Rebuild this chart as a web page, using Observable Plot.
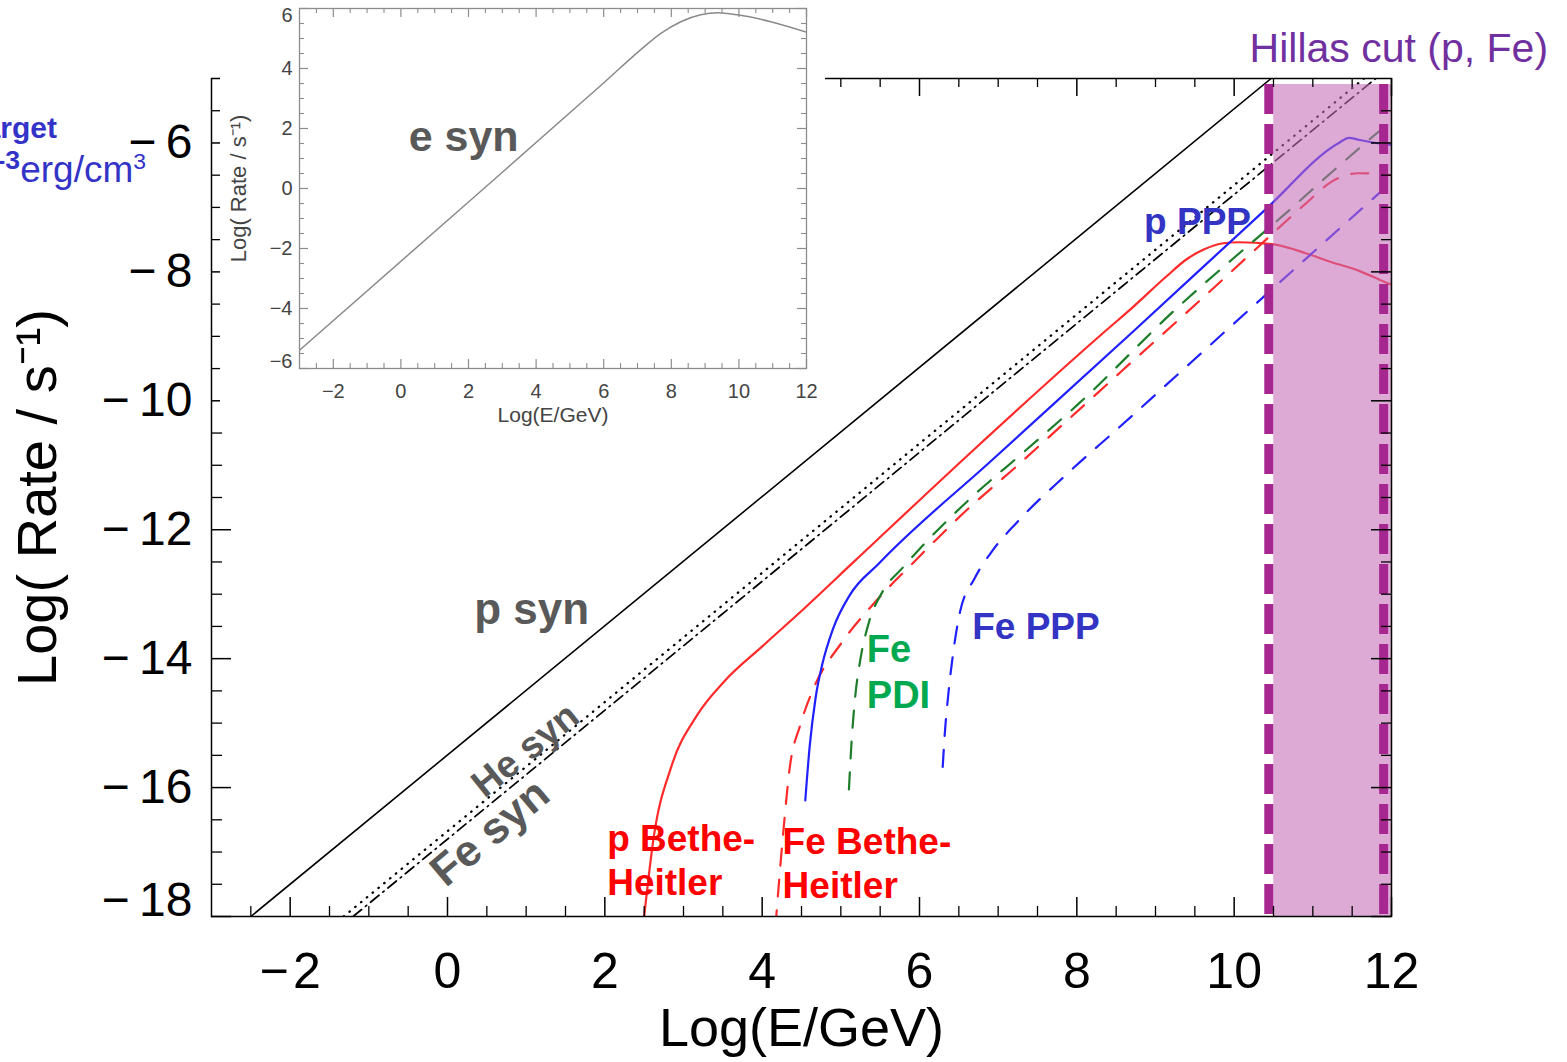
<!DOCTYPE html>
<html>
<head>
<meta charset="utf-8">
<script src="https://cdn.jsdelivr.net/npm/d3@7"></script>
<script src="https://cdn.jsdelivr.net/npm/@observablehq/plot@0.6"></script>
<style>
  html, body { margin: 0; padding: 0; background: #fff; overflow: hidden; }
  #wrap { position: relative; width: 1567px; height: 1062px; font-family: "Liberation Sans", Arial, sans-serif; }
  #wrap svg { display: block; }
  .abs { position: absolute; top: 0; left: 0; }
  .note { position: absolute; white-space: nowrap; color: #3333c8; line-height: 1; text-align: right; }
  .sup { position: relative; top: -0.55em; font-size: 0.62em; }
  .supb { position: relative; top: -0.5em; font-size: 0.72em; font-weight: bold; }
</style>
</head>
<body>
<div id="wrap"></div>
<script>
// ---------------- data ----------------
// main panel: x = log10(E/GeV), y = log10(rate / s^-1)
const pSynX  = [-2.5, 10.47];
const pSynY  = [-18, -5];
const heSynX = [-1.32, 11.65];
const heSynY = [-18, -5];
const feSynX = [-1.2, 11.8];
const feSynY = [-18, -5];

const pBHX = [2.485, 2.624, 2.844, 3.171, 3.52, 4.001, 4.482, 5.181, 6.68, 8.37, 8.71, 9.13, 9.40, 9.62, 9.84, 10.06, 10.48, 10.91, 11.24, 11.58, 11.92, 12.0];
const pBHY = [-18.17, -16.75, -15.68, -14.88, -14.35, -13.81, -13.28, -12.48, -10.77, -8.91, -8.55, -8.08, -7.80, -7.65, -7.56, -7.54, -7.57, -7.71, -7.85, -7.98, -8.16, -8.2];

const pPPPX = [4.548, 4.604, 4.679, 4.766, 4.897, 5.116, 5.487, 6.93, 8.73, 10.4, 11.33, 11.46, 11.58, 11.86, 12.0];
const pPPPY = [-16.2, -15.36, -14.61, -14.08, -13.55, -13.01, -12.52, -10.91, -8.91, -7.03, -6.0, -5.92, -5.95, -6.01, -6.03];

const feBHX = [4.168, 4.264, 4.352, 4.482, 4.657, 5.006, 5.4, 5.946, 6.57, 7.23, 7.91, 8.56, 9.55, 10.21, 10.91, 11.24, 11.58, 11.83, 12.0];
const feBHY = [-18.17, -16.75, -15.68, -15.04, -14.45, -13.76, -13.17, -12.48, -11.73, -11.02, -10.27, -9.55, -8.46, -7.72, -6.94, -6.6, -6.47, -6.48, -6.5];

const fePDIX = [5.103, 5.138, 5.181, 5.246, 5.356, 5.531, 5.793, 6.03, 6.66, 7.33, 8.01, 9.3, 9.98, 10.61, 11.29, 11.96, 12.0];
const fePDIY = [-16.03, -15.26, -14.61, -14.03, -13.44, -12.96, -12.58, -12.26, -11.5, -10.79, -10.06, -8.53, -7.8, -7.14, -6.4, -5.7, -5.66];

const fePPPX = [6.295, 6.326, 6.37, 6.427, 6.514, 6.698, 6.93, 7.235, 7.87, 8.54, 10.18, 11.88, 12.0];
const fePPPY = [-15.68, -15.09, -14.51, -13.92, -13.28, -12.76, -12.32, -11.89, -11.14, -10.41, -8.6, -6.74, -6.61];

// Hillas cut energies (p, Fe)
const hillasCut = [10.44, 11.9];

// inset: electron synchrotron
const eSynX = [-3, 2.0, 6.03, 7.09, 7.69, 8.28, 8.87, 9.37, 9.96, 10.94, 12.0];
const eSynY = [-5.39, -0.45, 3.55, 4.62, 5.17, 5.56, 5.79, 5.86, 5.79, 5.56, 5.21];

// axes
const X_DOMAIN = [-3, 12];
const Y_DOMAIN = [-18, -5];
const xTickValues = [-2, 0, 2, 4, 6, 8, 10, 12];
const yTickValues = [-6, -8, -10, -12, -14, -16, -18];
const IN_X_DOMAIN = [-3, 12];
const IN_Y_DOMAIN = [-6, 6];
const inXTickValues = [-2, 0, 2, 4, 6, 8, 10, 12];
const inYTickValues = [-6, -4, -2, 0, 2, 4, 6];

// annotation texts and anchor positions (data units)
const labels = [
  {id: "pSyn",  text: "p syn",              x: 0.34,  y: -13.47},
  {id: "heSyn", text: "He syn",             x: 0.99,  y: -15.42},
  {id: "feSyn", text: "Fe syn",             x: 0.54,  y: -16.70},
  {id: "pBH",   text: "p Bethe-\nHeitler",  x: 2.03,  y: -17.67},
  {id: "feBH",  text: "Fe Bethe-\nHeitler", x: 4.26,  y: -17.72},
  {id: "fePDI", text: "Fe\nPDI",            x: 5.33,  y: -14.77},
  {id: "fePPP", text: "Fe PPP",             x: 6.67,  y: -13.70},
  {id: "pPPP",  text: "p PPP",              x: 8.855, y: -7.42},
  {id: "hillas",text: "Hillas cut (p, Fe)", x: 13.99, y: -4.75}
];
const insetLabels = [{id: "eSyn", text: "e syn", x: 0.23, y: 1.24}];

// ---------------- helpers ----------------
const pts = (xs, ys) => xs.map((x, i) => ({x, y: ys[i]}));
const lab = id => labels.filter(d => d.id === id);
const minorOf = (lo, hi, major) => d3.range(lo, hi + 1e-9, 0.5).filter(v => !major.includes(v));
const fmtX = d => d < 0 ? "\u2212\u200a" + Math.abs(d) : String(d);
const fmtY = d => d < 0 ? "\u2212\u2009" + Math.abs(d) : String(d);
const fmtIn = d => d < 0 ? "\u2212" + Math.abs(d) : String(d);
const FONT = "'Liberation Sans', Arial, Helvetica, sans-serif";

// ---------------- main chart ----------------
const W = 1567, H = 1062, ML = 211, MR = 176, MT = 78, MB = 146;
const FW = W - ML - MR, FH = H - MT - MB;
const xMinor = minorOf(-2.5, 11.5, xTickValues);
const yMinor = minorOf(-17.5, -5.5, yTickValues);
const dashed = {strokeWidth: 2.2, strokeDasharray: "17,14", curve: "monotone-x", clip: true};
const solid = {strokeWidth: 2.2, curve: "monotone-x", clip: true};
const hillasRegion = [{x1: hillasCut[0], x2: X_DOMAIN[1], y1: Y_DOMAIN[0], y2: Y_DOMAIN[1]}];
const GRAY = "#595959", RED = "#ff0000", GREEN = "#00a84f", BLUE = "#3333c4";

const main = Plot.plot({
  width: W, height: H,
  marginLeft: ML, marginRight: MR, marginTop: MT, marginBottom: MB,
  x: {domain: X_DOMAIN},
  y: {domain: Y_DOMAIN},
  style: {fontFamily: FONT, background: "transparent", color: "#000", maxWidth: "none"},
  marks: [
    Plot.line(pts(pSynX, pSynY), {x: "x", y: "y", stroke: "#000", strokeWidth: 1.6, clip: true}),
    Plot.line(pts(heSynX, heSynY), {x: "x", y: "y", stroke: "#000", strokeWidth: 2.3, strokeDasharray: "0.5,7", strokeLinecap: "round", clip: true}),
    Plot.line(pts(feSynX, feSynY), {x: "x", y: "y", stroke: "#000", strokeWidth: 1.7, strokeDasharray: "11,5,1.5,5", clip: true}),
    Plot.line(pts(pBHX, pBHY), {x: "x", y: "y", stroke: "#ff2a2a", ...solid}),
    Plot.line(pts(feBHX, feBHY), {x: "x", y: "y", stroke: "#ff2a2a", ...dashed}),
    Plot.line(pts(fePDIX, fePDIY), {x: "x", y: "y", stroke: "#1e7d2a", ...dashed}),
    Plot.line(pts(pPPPX, pPPPY), {x: "x", y: "y", stroke: "#2020ff", ...solid}),
    Plot.line(pts(fePPPX, fePPPY), {x: "x", y: "y", stroke: "#2020ff", ...dashed}),
    // Hillas region
    Plot.rect(hillasRegion, {x1: "x1", x2: "x2", y1: "y1", y2: "y2", insetTop: 6, insetLeft: 5, fill: "#c46cb8", fillOpacity: 0.58}),
    Plot.ruleX(hillasCut, {x: d => d, stroke: "#a5278f", strokeWidth: 9, strokeDasharray: "30,10", insetTop: 6}),
    // inward ticks on the four sides
    Plot.ruleX(xTickValues, {x: d => d, insetTop: FH - 19, stroke: "#000", strokeWidth: 1.5}),
    Plot.ruleX(xMinor, {x: d => d, insetTop: FH - 10, stroke: "#000", strokeWidth: 1.3}),
    Plot.ruleX(xTickValues, {x: d => d, insetBottom: FH - 18, stroke: "#000", strokeWidth: 1.5}),
    Plot.ruleX(xMinor, {x: d => d, insetBottom: FH - 9, stroke: "#000", strokeWidth: 1.3}),
    Plot.ruleY(yTickValues, {y: d => d, insetRight: FW - 20, stroke: "#000", strokeWidth: 1.5}),
    Plot.ruleY(yMinor, {y: d => d, insetRight: FW - 11, stroke: "#000", strokeWidth: 1.3}),
    Plot.ruleY(yTickValues, {y: d => d, insetLeft: FW - 20, stroke: "#000", strokeWidth: 1.5}),
    Plot.ruleY(yMinor, {y: d => d, insetLeft: FW - 10, stroke: "#000", strokeWidth: 1.3}),
    Plot.frame({stroke: "#000", strokeWidth: 1.5}),
    // tick labels
    Plot.axisX(xTickValues, {anchor: "bottom", tickSize: 0, tickPadding: 36, fontSize: 50, tickFormat: fmtX, label: null}),
    Plot.axisY(yTickValues.filter(v => v !== -18), {anchor: "left", tickSize: 0, tickPadding: 19, fontSize: 48, tickFormat: fmtY, label: null}),
    Plot.axisY([-18], {anchor: "left", tickSize: 0, tickPadding: 19, fontSize: 48, tickFormat: fmtY, label: null, dy: -16}),
    // axis titles
    Plot.text(["Log(E/GeV)"], {frameAnchor: "bottom", dy: 112, fontSize: 54, textAnchor: "middle", lineAnchor: "middle", fill: "#000"}),
    Plot.text(["Log( Rate / s\u207B\u00B9)"], {frameAnchor: "left", dx: -173, rotate: -90, fontSize: 56, textAnchor: "middle", lineAnchor: "middle", fill: "#000"}),
    // annotations
    Plot.text(lab("pSyn"), {x: "x", y: "y", text: "text", fill: GRAY, fontSize: 44, fontWeight: "bold", textAnchor: "start", lineAnchor: "bottom"}),
    Plot.text(lab("heSyn"), {x: "x", y: "y", text: "text", fill: GRAY, fontSize: 38, fontWeight: "bold", rotate: -39, lineAnchor: "middle"}),
    Plot.text(lab("feSyn"), {x: "x", y: "y", text: "text", fill: GRAY, fontSize: 44, fontWeight: "bold", rotate: -40, lineAnchor: "middle"}),
    Plot.text(lab("pBH"), {x: "x", y: "y", text: "text", fill: RED, fontSize: 37, fontWeight: "bold", textAnchor: "start", lineAnchor: "bottom", lineHeight: 1.19}),
    Plot.text(lab("feBH"), {x: "x", y: "y", text: "text", fill: RED, fontSize: 37, fontWeight: "bold", textAnchor: "start", lineAnchor: "bottom", lineHeight: 1.19}),
    Plot.text(lab("fePDI"), {x: "x", y: "y", text: "text", fill: GREEN, fontSize: 38, fontWeight: "bold", textAnchor: "start", lineAnchor: "bottom", lineHeight: 1.22}),
    Plot.text(lab("fePPP"), {x: "x", y: "y", text: "text", fill: BLUE, fontSize: 37, fontWeight: "bold", textAnchor: "start", lineAnchor: "bottom"}),
    Plot.text(lab("pPPP"), {x: "x", y: "y", text: "text", fill: BLUE, fontSize: 37, fontWeight: "bold", textAnchor: "start", lineAnchor: "bottom"}),
    Plot.text(lab("hillas"), {x: "x", y: "y", text: "text", fill: "#7030a0", fontSize: 41, textAnchor: "end", lineAnchor: "bottom"})
  ]
});

// ---------------- inset chart ----------------
const IW = 605, IH = 432, IML = 79, IMR = 19, IMT = 8, IMB = 64;
const IFW = IW - IML - IMR, IFH = IH - IMT - IMB;
const inXMinor = minorOf(-2.5, 11.5, inXTickValues);
const inYMinor = minorOf(-5.5, 5.5, inYTickValues);
const IG = "#8c8c8c";

const inset = Plot.plot({
  width: IW, height: IH,
  marginLeft: IML, marginRight: IMR, marginTop: IMT, marginBottom: IMB,
  x: {domain: IN_X_DOMAIN},
  y: {domain: IN_Y_DOMAIN},
  style: {fontFamily: FONT, background: "#fff", color: "#444", maxWidth: "none"},
  marks: [
    Plot.line(pts(eSynX, eSynY), {x: "x", y: "y", stroke: "#8a8a8a", strokeWidth: 1.5, curve: "monotone-x", clip: true}),
    Plot.ruleX(inXTickValues, {x: d => d, insetTop: IFH - 9, stroke: IG, strokeWidth: 1.2}),
    Plot.ruleX(inXMinor, {x: d => d, insetTop: IFH - 5, stroke: IG, strokeWidth: 1.1}),
    Plot.ruleX(inXTickValues, {x: d => d, insetBottom: IFH - 9, stroke: IG, strokeWidth: 1.2}),
    Plot.ruleX(inXMinor, {x: d => d, insetBottom: IFH - 5, stroke: IG, strokeWidth: 1.1}),
    Plot.ruleY(inYTickValues, {y: d => d, insetRight: IFW - 9, stroke: IG, strokeWidth: 1.2}),
    Plot.ruleY(inYMinor, {y: d => d, insetRight: IFW - 5, stroke: IG, strokeWidth: 1.1}),
    Plot.ruleY(inYTickValues, {y: d => d, insetLeft: IFW - 9, stroke: IG, strokeWidth: 1.2}),
    Plot.ruleY(inYMinor, {y: d => d, insetLeft: IFW - 5, stroke: IG, strokeWidth: 1.1}),
    Plot.frame({stroke: IG, strokeWidth: 1.3}),
    Plot.axisX(inXTickValues, {anchor: "bottom", tickSize: 0, tickPadding: 15, fontSize: 20, tickFormat: fmtIn, label: null}),
    Plot.axisY(inYTickValues.filter(v => Math.abs(v) < 6), {anchor: "left", tickSize: 0, tickPadding: 7, fontSize: 20, tickFormat: fmtIn, label: null}),
    Plot.axisY([6], {anchor: "left", tickSize: 0, tickPadding: 7, fontSize: 20, tickFormat: fmtIn, label: null, dy: 7}),
    Plot.axisY([-6], {anchor: "left", tickSize: 0, tickPadding: 7, fontSize: 20, tickFormat: fmtIn, label: null, dy: -7}),
    Plot.text(["Log(E/GeV)"], {frameAnchor: "bottom", dy: 47, fontSize: 21, textAnchor: "middle", lineAnchor: "middle", fill: "#444"}),
    Plot.text(["Log( Rate / s\u207B\u00B9)"], {frameAnchor: "left", dx: -61, rotate: -90, fontSize: 22, textAnchor: "middle", lineAnchor: "middle", fill: "#444"}),
    Plot.text(insetLabels, {x: "x", y: "y", text: "text", fill: GRAY, fontSize: 43, fontWeight: "bold", textAnchor: "start", lineAnchor: "bottom"})
  ]
});

// ---------------- assemble ----------------
const wrap = document.getElementById("wrap");
main.classList.add("abs");
wrap.appendChild(main);
inset.style.position = "absolute";
inset.style.left = "220px";
inset.style.top = "0px";
wrap.appendChild(inset);

// cut-off photon-target note at the left edge
const n1 = document.createElement("div");
n1.className = "note";
n1.style.right = (W - 57) + "px";
n1.style.top = "113px";
n1.style.fontSize = "30px";
n1.style.fontWeight = "bold";
n1.textContent = "Photon target";
wrap.appendChild(n1);

const n2 = document.createElement("div");
n2.className = "note";
n2.style.right = (W - 146) + "px";
n2.style.top = "151px";
n2.style.fontSize = "37px";
n2.innerHTML = "u = 10<span class=\"supb\">-3</span>erg/cm<span class=\"sup\">3</span>";
wrap.appendChild(n2);
</script>
</body>
</html>
